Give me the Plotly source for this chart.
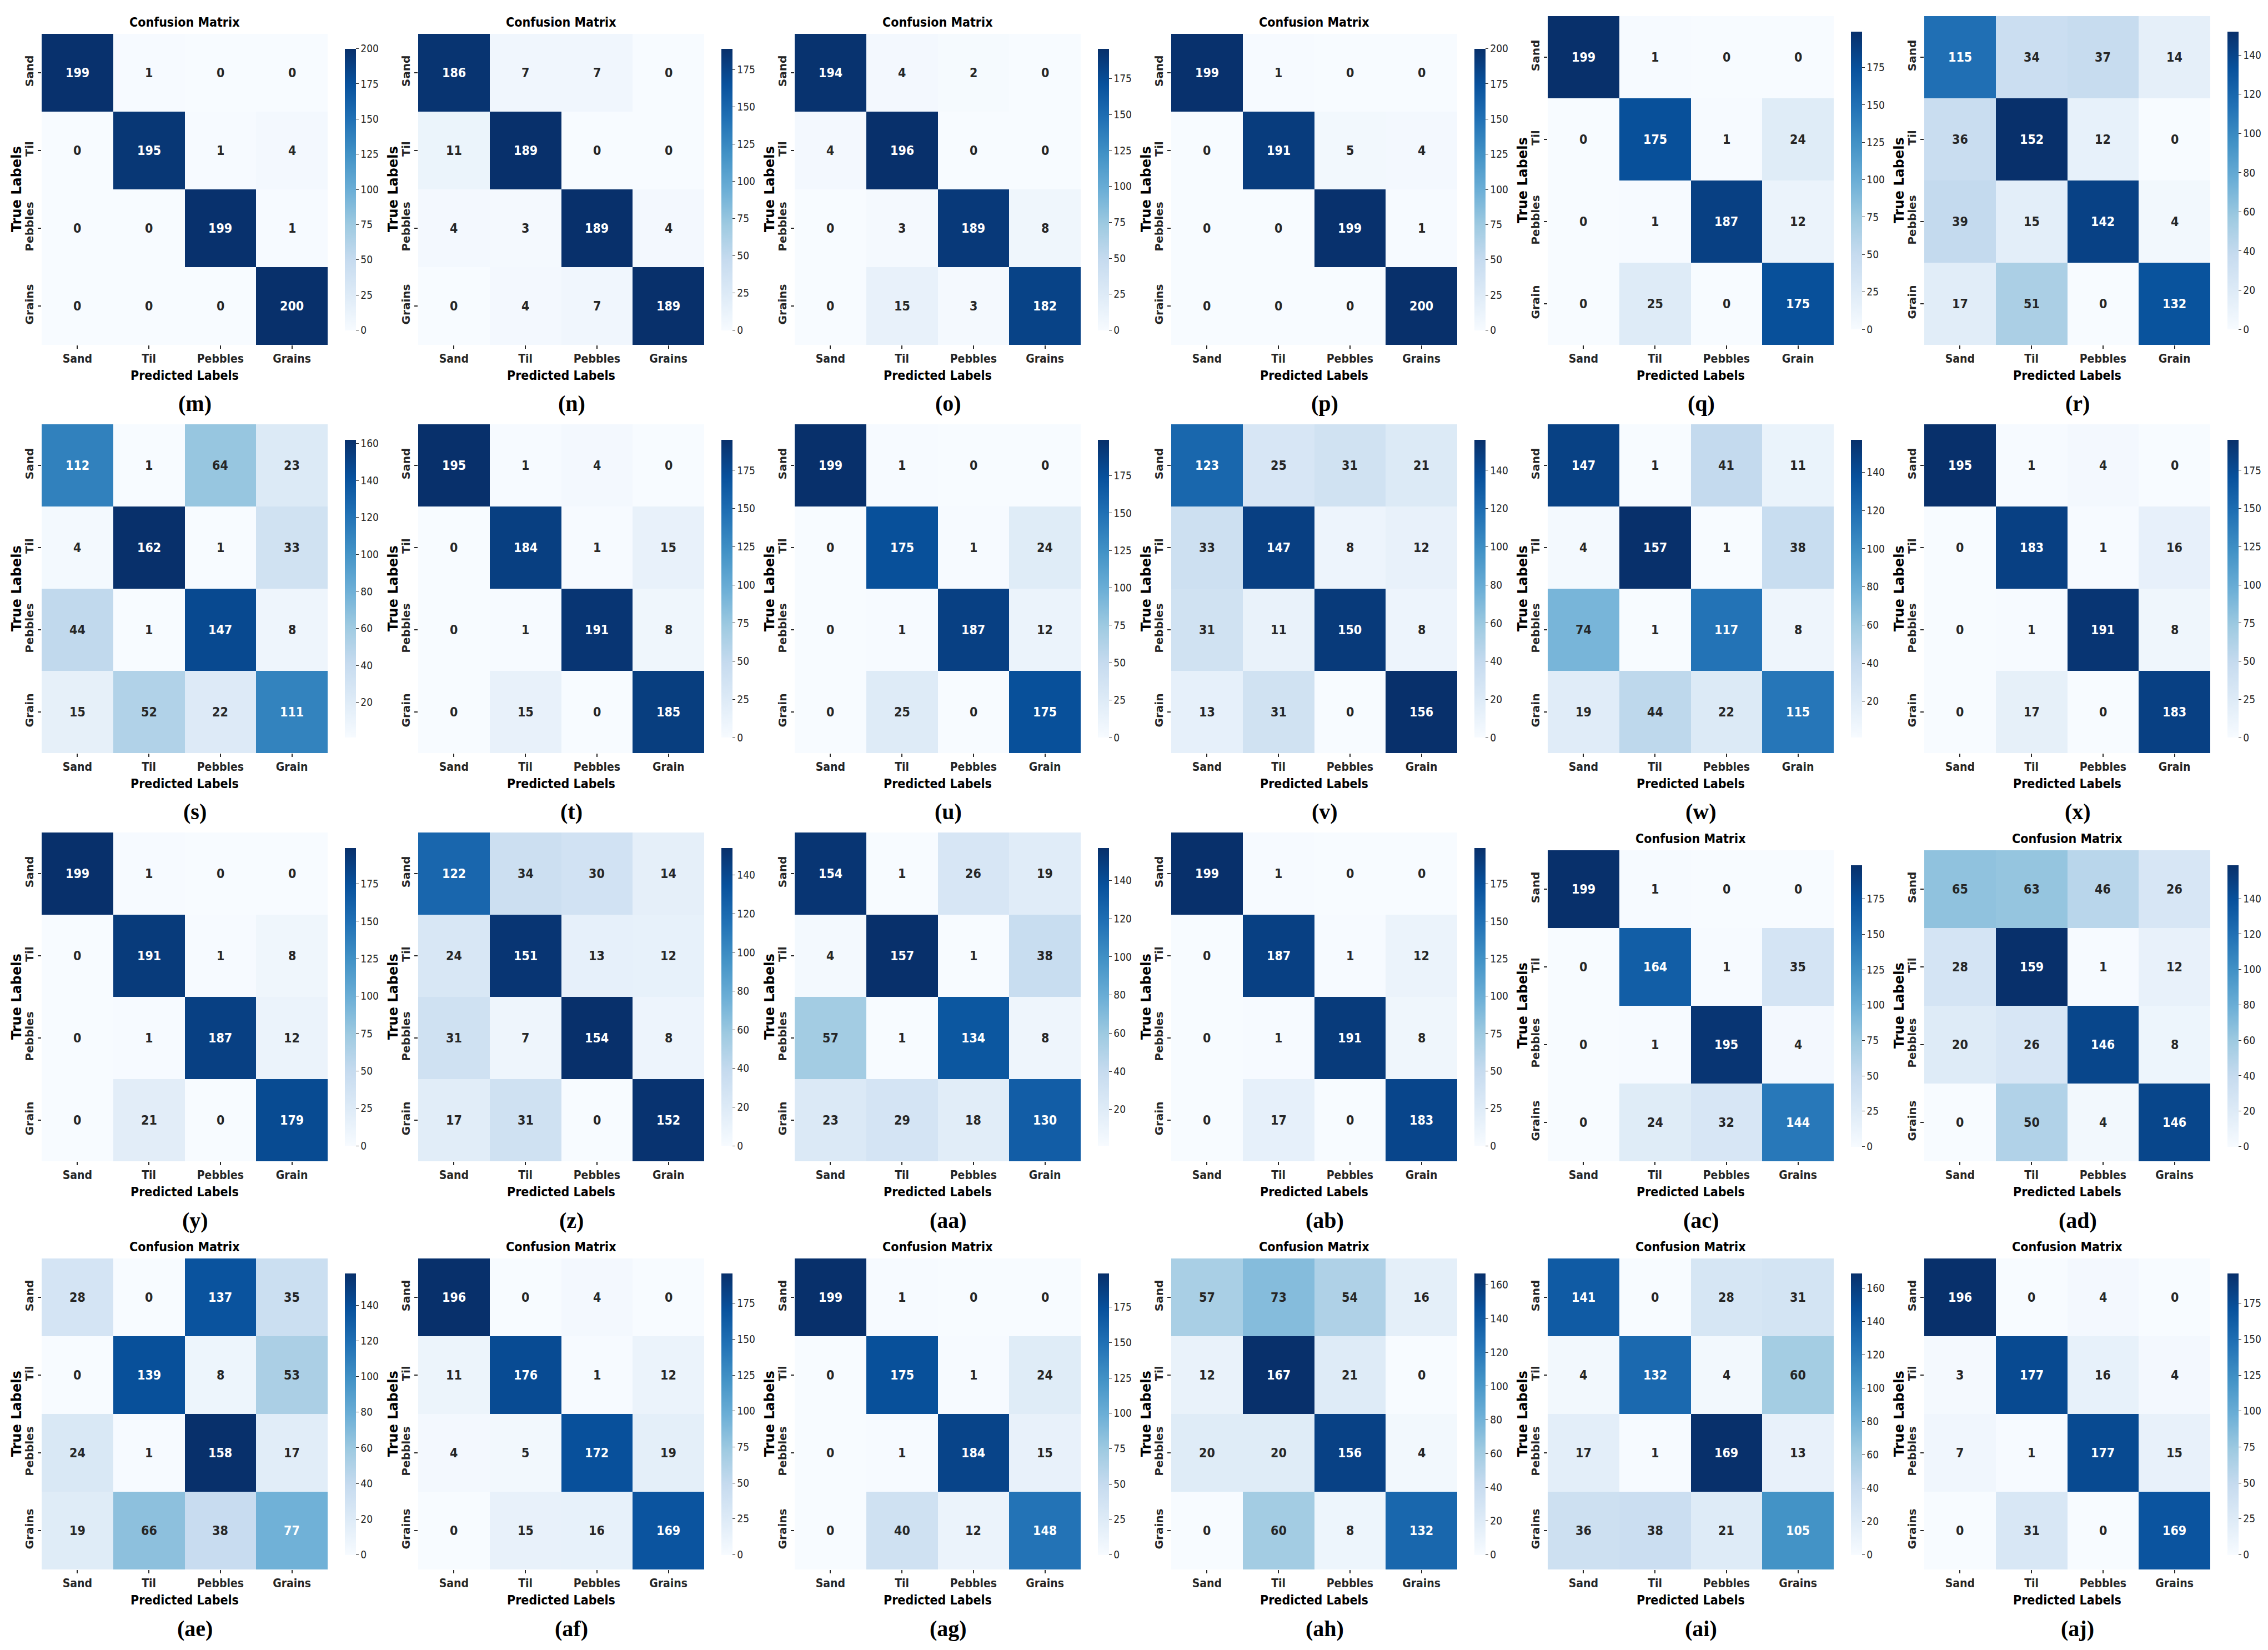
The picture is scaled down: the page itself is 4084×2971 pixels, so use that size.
import plotly.graph_objects as go

# Canvas size of the composite figure (pixels)
W, H = 4084, 2971

# Class names used on the axes
CLASSES_GRAINS = ["Sand", "Til", "Pebbles", "Grains"]
CLASSES_GRAIN = ["Sand", "Til", "Pebbles", "Grain"]

# Confusion matrices, rows = true label, cols = predicted label
cm_m = [[199, 1, 0, 0], [0, 195, 1, 4], [0, 0, 199, 1], [0, 0, 0, 200]]
cm_n = [[186, 7, 7, 0], [11, 189, 0, 0], [4, 3, 189, 4], [0, 4, 7, 189]]
cm_o = [[194, 4, 2, 0], [4, 196, 0, 0], [0, 3, 189, 8], [0, 15, 3, 182]]
cm_p = [[199, 1, 0, 0], [0, 191, 5, 4], [0, 0, 199, 1], [0, 0, 0, 200]]
cm_q = [[199, 1, 0, 0], [0, 175, 1, 24], [0, 1, 187, 12], [0, 25, 0, 175]]
cm_r = [[115, 34, 37, 14], [36, 152, 12, 0], [39, 15, 142, 4], [17, 51, 0, 132]]

cm_s = [[112, 1, 64, 23], [4, 162, 1, 33], [44, 1, 147, 8], [15, 52, 22, 111]]
cm_t = [[195, 1, 4, 0], [0, 184, 1, 15], [0, 1, 191, 8], [0, 15, 0, 185]]
cm_u = [[199, 1, 0, 0], [0, 175, 1, 24], [0, 1, 187, 12], [0, 25, 0, 175]]
cm_v = [[123, 25, 31, 21], [33, 147, 8, 12], [31, 11, 150, 8], [13, 31, 0, 156]]
cm_w = [[147, 1, 41, 11], [4, 157, 1, 38], [74, 1, 117, 8], [19, 44, 22, 115]]
cm_x = [[195, 1, 4, 0], [0, 183, 1, 16], [0, 1, 191, 8], [0, 17, 0, 183]]

cm_y = [[199, 1, 0, 0], [0, 191, 1, 8], [0, 1, 187, 12], [0, 21, 0, 179]]
cm_z = [[122, 34, 30, 14], [24, 151, 13, 12], [31, 7, 154, 8], [17, 31, 0, 152]]
cm_aa = [[154, 1, 26, 19], [4, 157, 1, 38], [57, 1, 134, 8], [23, 29, 18, 130]]
cm_ab = [[199, 1, 0, 0], [0, 187, 1, 12], [0, 1, 191, 8], [0, 17, 0, 183]]
cm_ac = [[199, 1, 0, 0], [0, 164, 1, 35], [0, 1, 195, 4], [0, 24, 32, 144]]
cm_ad = [[65, 63, 46, 26], [28, 159, 1, 12], [20, 26, 146, 8], [0, 50, 4, 146]]

cm_ae = [[28, 0, 137, 35], [0, 139, 8, 53], [24, 1, 158, 17], [19, 66, 38, 77]]
cm_af = [[196, 0, 4, 0], [11, 176, 1, 12], [4, 5, 172, 19], [0, 15, 16, 169]]
cm_ag = [[199, 1, 0, 0], [0, 175, 1, 24], [0, 1, 184, 15], [0, 40, 12, 148]]
cm_ah = [[57, 73, 54, 16], [12, 167, 21, 0], [20, 20, 156, 4], [0, 60, 8, 132]]
cm_ai = [[141, 0, 28, 31], [4, 132, 4, 60], [17, 1, 169, 13], [36, 38, 21, 105]]
cm_aj = [[196, 0, 4, 0], [3, 177, 16, 4], [7, 1, 177, 15], [0, 31, 0, 169]]

PANEL_ROWS = [
    [("m", cm_m), ("n", cm_n), ("o", cm_o), ("p", cm_p), ("q", cm_q), ("r", cm_r)],
    [("s", cm_s), ("t", cm_t), ("u", cm_u), ("v", cm_v), ("w", cm_w), ("x", cm_x)],
    [("y", cm_y), ("z", cm_z), ("aa", cm_aa), ("ab", cm_ab), ("ac", cm_ac), ("ad", cm_ad)],
    [("ae", cm_ae), ("af", cm_af), ("ag", cm_ag), ("ah", cm_ah), ("ai", cm_ai), ("aj", cm_aj)],
]
# panels that carry the "Confusion Matrix" heading
TITLED = {"m", "n", "o", "p", "ac", "ad", "ae", "af", "ag", "ah", "ai", "aj"}
# panels labelled "Grain" instead of "Grains"
SINGULAR = {"q", "r", "s", "t", "u", "v", "w", "x", "y", "z", "aa", "ab"}

# matplotlib "Blues"
BLUES = ["#f7fbff", "#deebf7", "#c6dbef", "#9ecae1", "#6baed6",
         "#4292c6", "#2171b5", "#08519c", "#08306b"]
COLORSCALE = [[i / 8, c] for i, c in enumerate(BLUES)]

SANS = "DejaVu Sans Condensed, DejaVu Sans"
DARK = "#262626"


def hex_rgb(h):
    return [int(h[i:i + 2], 16) for i in (1, 3, 5)]


def blues_at(t):
    t = min(max(t, 0.0), 1.0) * 8
    i = min(int(t), 7)
    f = t - i
    a, b = hex_rgb(BLUES[i]), hex_rgb(BLUES[i + 1])
    return [a[k] + (b[k] - a[k]) * f for k in range(3)]


def text_color(v, vmin, vmax):
    # same rule seaborn uses to pick annotation colour
    rgb = blues_at((v - vmin) / (vmax - vmin))
    lin = []
    for c in rgb:
        c = c / 255
        lin.append(c / 12.92 if c <= 0.03928 else ((c + 0.055) / 1.055) ** 2.4)
    lum = 0.2126 * lin[0] + 0.7152 * lin[1] + 0.0722 * lin[2]
    return DARK if lum > 0.408 else "white"


fig = go.Figure()
annotations = []
layout_axes = {}

n = 0
for r, row in enumerate(PANEL_ROWS):
    for c, (name, cm) in enumerate(row):
        n += 1
        sfx = "" if n == 1 else str(n)
        labels = CLASSES_GRAIN if name in SINGULAR else CLASSES_GRAINS
        titled = name in TITLED

        x0 = 67 + 678 * c
        x1 = x0 + 515
        bottom = 613 + 735 * r
        top = bottom - (560 if titled else 592)
        hgt = bottom - top
        cx = (x0 + x1) / 2

        flat = [v for rr in cm for v in rr]
        vmin, vmax = min(flat), max(flat)

        fig.add_trace(go.Heatmap(
            z=cm, x=labels, y=labels,
            xaxis="x" + sfx, yaxis="y" + sfx,
            colorscale=COLORSCALE, zmin=vmin, zmax=vmax,
            colorbar=dict(
                x=(x0 + 546) / W, xanchor="left",
                y=1 - (top + bottom) / 2 / H, yanchor="middle",
                len=hgt * 0.905, lenmode="pixels",
                thickness=20, thicknessmode="pixels",
                outlinewidth=0, xpad=0, ypad=0,
                ticks="outside", ticklen=5, tickwidth=1, tickcolor=DARK,
                tick0=0, dtick=25 if vmax >= 175 else 20,
                tickfont=dict(family=SANS, size=19, color=DARK),
            ),
            hoverinfo="skip",
        ))

        tickstyle = dict(ticks="outside", ticklen=6, tickwidth=1.5, tickcolor=DARK,
                         showgrid=False, zeroline=False, showline=False)
        layout_axes["xaxis" + sfx] = dict(
            domain=[x0 / W, x1 / W], anchor="y" + sfx, tickangle=0,
            tickfont=dict(family=SANS, size=21, weight="bold", color=DARK),
            **tickstyle)
        layout_axes["yaxis" + sfx] = dict(
            domain=[1 - bottom / H, 1 - top / H], anchor="x" + sfx,
            autorange="reversed", tickangle=-90,
            tickfont=dict(family="DejaVu Sans", size=20, weight="bold", color=DARK),
            **tickstyle)

        # cell values
        for i, true_lab in enumerate(labels):
            for j, pred_lab in enumerate(labels):
                v = cm[i][j]
                annotations.append(dict(
                    x=pred_lab, y=true_lab, xref="x" + sfx, yref="y" + sfx,
                    text=str(v), showarrow=False,
                    font=dict(family=SANS, size=23, weight="bold",
                              color=text_color(v, vmin, vmax))))

        if titled:
            annotations.append(dict(
                x=cx / W, y=1 - (top - 21) / H, xref="paper", yref="paper",
                text="Confusion Matrix", showarrow=False,
                xanchor="center", yanchor="middle",
                font=dict(family=SANS, size=23, weight="bold", color="black")))

        annotations.append(dict(
            x=cx / W, y=1 - (bottom + 55) / H, xref="paper", yref="paper",
            text="Predicted Labels", showarrow=False,
            xanchor="center", yanchor="middle",
            font=dict(family=SANS, size=23, weight="bold", color="black")))

        annotations.append(dict(
            x=(x0 - 45) / W, y=1 - (top + bottom) / 2 / H, xref="paper", yref="paper",
            text="True Labels", showarrow=False, textangle=-90,
            xanchor="center", yanchor="middle",
            font=dict(family="DejaVu Sans", size=24, weight="bold", color="black")))

        annotations.append(dict(
            x=(x0 + 276) / W, y=1 - (bottom + 106) / H, xref="paper", yref="paper",
            text="(" + name + ")", showarrow=False,
            xanchor="center", yanchor="middle",
            font=dict(family="Liberation Serif", size=40, weight="bold", color="black")))

fig.update_layout(
    width=W, height=H,
    margin=dict(l=0, r=0, t=0, b=0),
    paper_bgcolor="white", plot_bgcolor="white",
    showlegend=False,
    annotations=annotations,
    **layout_axes,
)

fig.write_html("out.html")
